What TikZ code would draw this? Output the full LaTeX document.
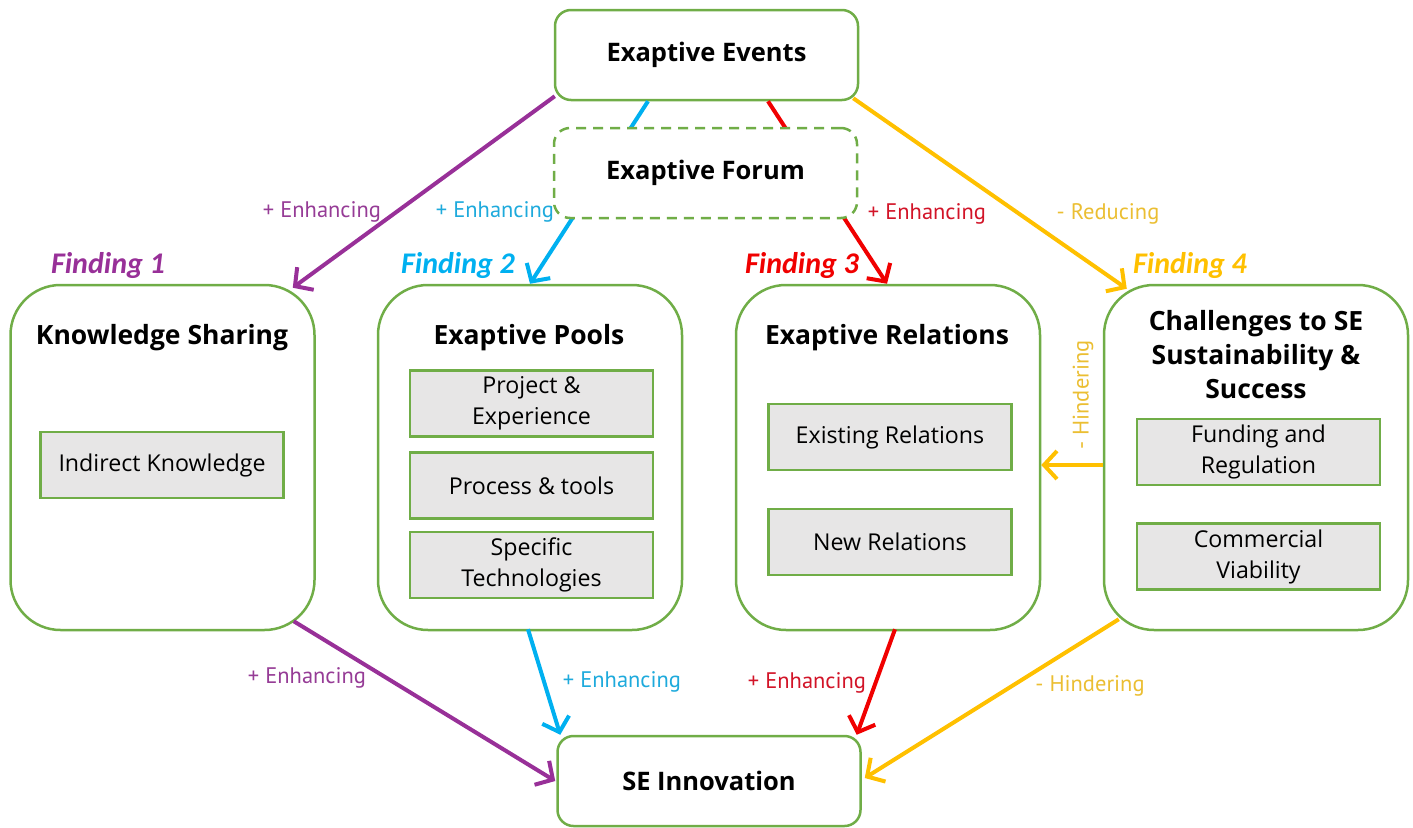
\documentclass[tikz,border=0pt]{standalone}
\usepackage{fontspec}
\setmainfont{Open Sans}
\newfontfamily\findfont{Carlito}
\newfontfamily\labfont{PT Sans}
\usetikzlibrary{arrows.meta,calc}
\definecolor{gbord}{RGB}{112,173,71}
\definecolor{gfill}{RGB}{231,230,230}
\definecolor{cpur}{RGB}{152,48,152}
\definecolor{ccyan}{RGB}{0,176,240}
\definecolor{cred}{RGB}{240,0,0}
\definecolor{cyel}{RGB}{255,192,0}
\definecolor{lpur}{RGB}{150,60,150}
\definecolor{lcyan}{RGB}{30,170,220}
\definecolor{lred}{RGB}{210,20,40}
\definecolor{lyel}{RGB}{235,190,50}
\tikzset{
  bigbox/.style={draw=gbord, line width=2.5pt, rounded corners=50pt, minimum width=304pt, minimum height=345pt, fill=white},
  topbox/.style={draw=gbord, line width=2.5pt, rounded corners=16pt, minimum width=303pt, minimum height=90pt, fill=white, font=\fontsize{25.5}{27}\selectfont\bfseries},
  subbox/.style={draw=gbord, line width=2.5pt, fill=gfill, minimum width=243pt, minimum height=66pt, align=center, inner sep=0pt, font=\fontsize{23.2}{31}\selectfont},
  titletext/.style={font=\fontsize{26.5}{34}\selectfont\bfseries, align=center},
  findtext/.style={font=\findfont\fontsize{30}{34}\selectfont\bfseries\itshape},
  labtext/.style={font=\labfont\fontsize{22.5}{24}\selectfont},
  conn/.style={line width=4pt, -{Straight Barb[length=13pt,width=28pt]}}
}
\begin{document}
\begin{tikzpicture}[x=1pt,y=-1pt]
\useasboundingbox (0,0) rectangle (1413,827);
% top event box
\node[topbox] (ev) at (706.5,55) {Exaptive Events};
% big boxes
\node[bigbox] (ks) at (162.5,457.5) {};
\node[bigbox] (pools) at (530,457.5) {};
\node[bigbox] (rel) at (888,457.5) {};
\node[bigbox] (chal) at (1256,457.5) {};
\node[topbox] (se) at (709,781) {SE Innovation};
% titles
\node[titletext] (kst) at (162,338) {Knowledge Sharing};
\node[titletext] (poolst) at (529,338) {Exaptive Pools};
\node[titletext] (relt) at (887,338) {Exaptive Relations};
\node[titletext] (chalt) at (1256,355) {Challenges to SE\\Sustainability \&\\Success};
% sub boxes
\node[subbox] (ik) at (162,465) {Indirect Knowledge};
\node[subbox] (pe) at (531.5,403.5) {Project \&\\Experience};
\node[subbox] (pt) at (531.5,485.5) {Process \& tools};
\node[subbox] (st) at (531.5,565) {Specific\\Technologies};
\node[subbox] (er) at (890,437) {Existing Relations};
\node[subbox] (nr) at (890,542) {New Relations};
\node[subbox] (fr) at (1258.5,452) {Funding and\\Regulation};
\node[subbox] (cv) at (1258.5,556.5) {Commercial\\Viability};
% findings
\node[findtext, text=cpur] (f1) at (108,265) {Finding 1};
\node[findtext, text=ccyan] (f2) at (458,265) {Finding 2};
\node[findtext, text=cred] (f3) at (802,265) {Finding 3};
\node[findtext, text=cyel] (f4) at (1190,265) {Finding 4};
% connectors from events
\draw[conn, cpur] ($(ev.south west)+(1,-5)$) -- ($(ks.north east)+(-23,4)$);
\draw[conn, ccyan] ($(ev.south)+(-58.5,0)$) -- (pools.north);
\draw[conn, cred] ($(ev.south)+(61.5,0)$) -- ($(rel.north)+(-1,0)$);
\draw[conn, cyel] ($(ev.south east)+(-6,-3)$) -- ($(chal.north west)+(24,5)$);
% forum on top
\node[topbox, dashed, dash pattern=on 10pt off 7pt] (forum) at (705.5,173) {Exaptive Forum};
% hindering horizontal
\draw[conn, cyel] ($(chal.west)+(0,7.5)$) -- ($(rel.east)+(0,7.5)$);
% to SE innovation
\draw[conn, cpur] ($(ks.south east)+(-22,-10)$) -- ($(se.west)+(-1,0)$);
\draw[conn, ccyan] ($(pools.south)+(-2,-2)$) -- ($(se.north west)+(4,0)$);
\draw[conn, cred] ($(rel.south)+(7,-2)$) -- ($(se.north east)+(-5,0)$);
\draw[conn, cyel] ($(chal.south west)+(16,-12)$) -- ($(se.east)+(3,-3)$);
% labels
\node[labtext, text=lpur] (l1) at (322,212) {+ Enhancing};
\node[labtext, text=lcyan] (l2) at (495,212) {+ Enhancing};
\node[labtext, text=lred] (l3) at (927,214) {+ Enhancing};
\node[labtext, text=lyel] (l4) at (1108,214) {- Reducing};
\node[labtext, text=lyel, rotate=90] (l5) at (1083,395) {- Hindering};
\node[labtext, text=lpur] (l6) at (307,678) {+ Enhancing};
\node[labtext, text=lcyan] (l7) at (622,682) {+ Enhancing};
\node[labtext, text=lred] (l8) at (807,683) {+ Enhancing};
\node[labtext, text=lyel] (l9) at (1090,686) {- Hindering};
\end{tikzpicture}
\end{document}
